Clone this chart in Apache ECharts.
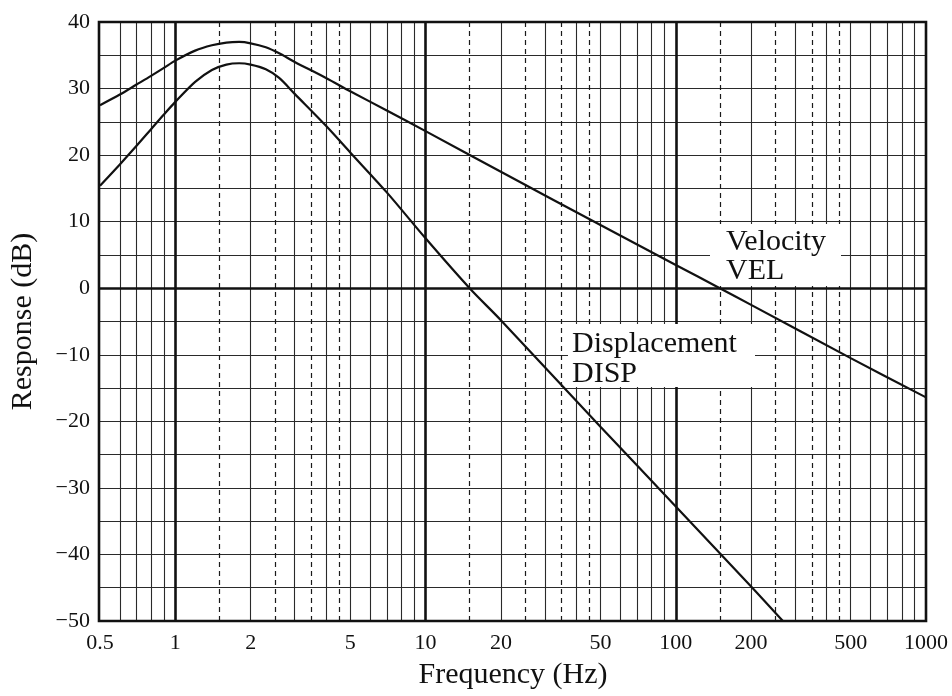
<!DOCTYPE html>
<html><head><meta charset="utf-8">
<script src="https://cdn.jsdelivr.net/npm/echarts@6/dist/echarts.min.js"></script>
<style>html,body{margin:0;padding:0;background:#fff}#c{width:952px;height:696px}</style>
</head><body><div id="c"></div>
<script>
// ---- data ----
const tickFreqs = [0.5, 1, 2, 5, 10, 20, 50, 100, 200, 500, 1000];
const tickLabels = ['0.5', '1', '2', '5', '10', '20', '50', '100', '200', '500', '1000'];
const decadeLines = [1, 10, 100];
const solidMinorLines = [0.6, 0.7, 0.8, 0.9, 2, 3, 4, 5, 6, 7, 8, 9, 20, 30, 40, 50, 60, 70, 80, 90, 200, 300, 400, 500, 600, 700, 800, 900];
const dashedMinorLines = [1.5, 2.5, 3.5, 4.5, 15, 25, 35, 45, 150, 250, 350, 450];
const zeroLine = [0];

const velFreq = [0.5, 0.6, 0.7, 0.8, 0.9, 1.0, 1.2, 1.4, 1.6, 1.8, 2.0, 2.3, 2.6, 3.0, 4.0, 5.0, 7.0, 10, 20, 50, 100, 150, 200, 500, 1000];
const velDb   = [27.5, 29.1, 30.6, 31.9, 33.1, 34.2, 35.7, 36.5, 36.9, 37.0, 36.8, 36.2, 35.3, 34.0, 31.6, 29.6, 26.7, 23.6, 17.5, 9.5, 3.5, 0.0, -2.5, -10.5, -16.4];

const dispFreq = [0.5, 0.6, 0.7, 0.8, 0.9, 1.0, 1.2, 1.4, 1.6, 1.8, 2.0, 2.3, 2.6, 3.0, 4.0, 5.0, 7.0, 10, 15, 20, 50, 100, 200, 268];
const dispDb   = [15.4, 18.6, 21.4, 23.9, 26.1, 28.0, 31.0, 32.8, 33.6, 33.8, 33.6, 32.9, 31.6, 29.2, 24.4, 20.4, 14.4, 7.5, 0.0, -4.8, -20.8, -32.8, -44.8, -50.0];

// ---- chart ----
const FONT = '"Liberation Serif", "Times New Roman", serif';
const chart = echarts.init(document.getElementById('c'), null, {renderer: 'canvas'});
const gridBox = {left: 99, top: 22, width: 827, height: 599};

function vLines(vals) { return vals.map(v => ({xAxis: v})); }

const option = {
  backgroundColor: '#fff',
  animation: false,
  grid: {left: gridBox.left, top: gridBox.top, right: 952 - gridBox.left - gridBox.width, bottom: 696 - gridBox.top - gridBox.height, show: false},
  xAxis: {
    type: 'log', logBase: 10, min: 0.5, max: 1000,
    name: 'Frequency (Hz)', nameLocation: 'middle', nameGap: 39,
    nameTextStyle: {fontFamily: FONT, fontSize: 30, color: '#111'},
    axisLine: {show: false}, axisTick: {show: false},
    splitLine: {show: false}, minorSplitLine: {show: false},
    axisLabel: {
      show: true, customValues: tickFreqs, margin: 11,
      fontFamily: FONT, fontSize: 22, color: '#111',
      formatter: function (v) {
        let best = 0, bd = Infinity;
        tickFreqs.forEach((f, i) => { const d = Math.abs(Math.log10(f) - Math.log10(v)); if (d < bd) { bd = d; best = i; } });
        return tickLabels[best];
      }
    }
  },
  yAxis: {
    type: 'value', min: -50, max: 40, interval: 5,
    name: 'Response (dB)', nameLocation: 'middle', nameGap: 62,
    nameTextStyle: {fontFamily: FONT, fontSize: 30, color: '#111'},
    axisLine: {show: false}, axisTick: {show: false},
    splitLine: {show: true, showMinLine: false, showMaxLine: false, lineStyle: {color: '#2a2a2a', width: 1.1}},
    axisLabel: {
      margin: 10, fontFamily: FONT, fontSize: 22, color: '#111',
      formatter: function (v) {
        if (Math.round(v) % 10 !== 0) return '';
        return v < 0 ? '\u2212' + Math.abs(v) : String(v);
      }
    }
  },
  series: [
    {type: 'line', data: [], silent: true,
     markLine: {silent: true, symbol: 'none', animation: false, label: {show: false},
       lineStyle: {color: '#2a2a2a', width: 1.1, type: 'solid'}, emphasis: {disabled: true},
       data: vLines(solidMinorLines)}},
    {type: 'line', data: [], silent: true,
     markLine: {silent: true, symbol: 'none', animation: false, label: {show: false},
       lineStyle: {color: '#1a1a1a', width: 1.2, type: [5, 4]}, emphasis: {disabled: true},
       data: vLines(dashedMinorLines)}},
    {type: 'line', data: [], silent: true,
     markLine: {silent: true, symbol: 'none', animation: false, label: {show: false},
       lineStyle: {color: '#111', width: 2.6, type: 'solid'}, emphasis: {disabled: true},
       data: vLines(decadeLines).concat(zeroLine.map(v => ({yAxis: v})))}},
    {name: 'Velocity', type: 'line', z: 10, smooth: 0.3, symbol: 'none',
     lineStyle: {color: '#111', width: 2.2},
     data: velFreq.map((f, i) => [f, velDb[i]])},
    {name: 'Displacement', type: 'line', z: 10, smooth: 0.3, symbol: 'none',
     lineStyle: {color: '#111', width: 2.2},
     data: dispFreq.map((f, i) => [f, dispDb[i]])}
  ],
  graphic: [
    {type: 'rect', z: 8, silent: true, shape: {x: 710, y: 224, width: 131, height: 62}, style: {fill: '#fff'}},
    {type: 'text', z: 9, silent: true, x: 726, y: 228,
     style: {text: 'Velocity\nVEL', font: '30px ' + FONT, fill: '#111', lineHeight: 29, textVerticalAlign: 'top'}},
    {type: 'rect', z: 8, silent: true, shape: {x: 568, y: 324, width: 187, height: 63}, style: {fill: '#fff'}},
    {type: 'text', z: 9, silent: true, x: 572, y: 329,
     style: {text: 'Displacement\nDISP', font: '30px ' + FONT, fill: '#111', lineHeight: 30, textVerticalAlign: 'top'}},
    {type: 'rect', z: 20, silent: true, shape: {x: gridBox.left, y: gridBox.top, width: gridBox.width, height: gridBox.height},
     style: {fill: 'none', stroke: '#111', lineWidth: 2.6}}
  ]
};
chart.setOption(option);
</script>
</body></html>
